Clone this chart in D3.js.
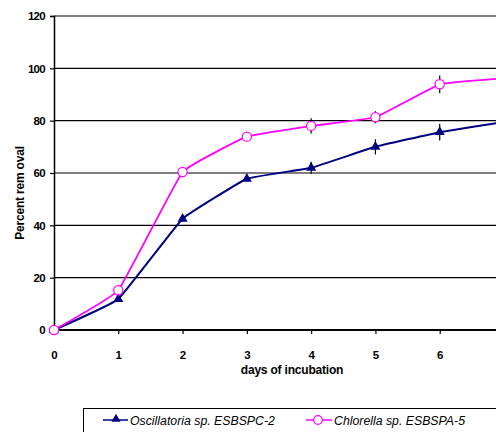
<!DOCTYPE html>
<html><head><meta charset="utf-8">
<script src="https://cdn.jsdelivr.net/npm/d3@7"></script>
<style>
html,body{margin:0;padding:0;background:#fff;}
svg{display:block;}
text{font-family:"Liberation Sans",Arial,sans-serif;}
</style></head>
<body>
<script>
const days = [0,1,2,3,4,5,6,7];
const oscillatoria = [0,11.8,42.5,57.8,62,70,75.6,79.5];
const oscErr = [0,0.8,1,1,2.3,2.9,3.2,3];
const chlorella = [0,15.2,60.4,73.9,78,81.3,93.9,96.2];
const chlErr = [0,0.8,1,1,2.9,2.3,3.4,3];
const yTicks = [0,20,40,60,80,100,120];
const xTicks = [0,1,2,3,4,5,6];
const seriesNames = ["Oscillatoria sp. ESBSPC-2","Chlorella sp. ESBSPA-5"];

const W=496,H=432;
const svg=d3.select("body").append("svg").attr("width",W).attr("height",H);
const x=d3.scaleLinear().domain([0,7]).range([54,504]);
const y=d3.scaleLinear().domain([0,120]).range([330,16]);

// gridlines
svg.append("g").selectAll("line").data(yTicks.filter(d=>d>0&&d<120)).join("line")
  .attr("x1",54).attr("x2",W).attr("y1",d=>y(d)).attr("y2",d=>y(d))
  .attr("stroke","#000").attr("stroke-width",1.2);
// top border
svg.append("line").attr("x1",54).attr("x2",W).attr("y1",y(120)).attr("y2",y(120))
  .attr("stroke","#808080").attr("stroke-width",2);

// y axis
const yAxis=svg.append("g").attr("transform","translate(54,0)")
  .call(d3.axisLeft(y).tickValues(yTicks).tickSize(4).tickPadding(5));
yAxis.select(".domain").attr("stroke","#000").attr("stroke-width",1.5);
yAxis.selectAll(".tick line").attr("stroke","#000").attr("stroke-width",1.2);
yAxis.selectAll("text").attr("font-size",11.5).attr("font-weight","bold").attr("letter-spacing","-0.7").attr("fill","#000");

// x axis
const xAxis=svg.append("g").attr("transform","translate(0,330)")
  .call(d3.axisBottom(x).tickValues(xTicks).tickSize(4).tickPadding(17).tickFormat(d3.format("d")));
xAxis.select(".domain").remove();
xAxis.append("line").attr("x1",54).attr("x2",W).attr("stroke","#000").attr("stroke-width",2.2);
xAxis.selectAll(".tick line").attr("stroke","#000").attr("stroke-width",1.2);
xAxis.selectAll("text").attr("font-size",11.5).attr("font-weight","bold").attr("fill","#000");

// titles
svg.append("text").attr("x",292).attr("y",374).attr("text-anchor","middle")
  .attr("font-size",12).attr("font-weight","bold").attr("letter-spacing","-0.2").text("days of incubation");
svg.append("text").attr("transform","translate(24,193) rotate(-90)").attr("text-anchor","middle")
  .attr("font-size",12).attr("font-weight","bold").attr("letter-spacing","-0.2").text("Percent rem oval");

const line=d3.line().x((d,i)=>x(days[i])).y(d=>y(d)).curve(d3.curveCardinal.tension(0.75));

function errBars(vals,errs){
  svg.append("g").selectAll("line").data(vals).join("line")
    .attr("x1",(d,i)=>x(days[i])).attr("x2",(d,i)=>x(days[i]))
    .attr("y1",(d,i)=>y(d+errs[i])).attr("y2",(d,i)=>y(d-errs[i]))
    .attr("stroke","#000").attr("stroke-width",1.2);
}
errBars(oscillatoria,oscErr);
errBars(chlorella,chlErr);

svg.append("path").attr("d",line(oscillatoria)).attr("fill","none").attr("stroke","#000080").attr("stroke-width",2);
svg.append("path").attr("d",line(chlorella)).attr("fill","none").attr("stroke","#ff00ff").attr("stroke-width",1.8);

const tri=d3.symbol().type(d3.symbolTriangle).size(44);
svg.append("g").selectAll("path").data(oscillatoria).join("path")
  .attr("transform",(d,i)=>`translate(${x(days[i])},${y(d)})`).attr("d",tri()).attr("fill","#000080");
svg.append("g").selectAll("circle").data(chlorella).join("circle")
  .attr("cx",(d,i)=>x(days[i])).attr("cy",d=>y(d)).attr("r",4.6)
  .attr("fill","#fff").attr("stroke","#ff00ff").attr("stroke-width",1.2);

// legend
svg.append("rect").attr("x",83.5).attr("y",408.5).attr("width",430).attr("height",40)
  .attr("fill","#fff").attr("stroke","#000").attr("stroke-width",1);
const lg=svg.append("g");
lg.append("line").attr("x1",103).attr("x2",128).attr("y1",420).attr("y2",420).attr("stroke","#000080").attr("stroke-width",1.5);
lg.append("path").attr("transform","translate(116,419)").attr("d",d3.symbol().type(d3.symbolTriangle).size(36)()).attr("fill","#000080");
lg.append("text").attr("x",130).attr("y",424.5).attr("font-size",12.3).attr("font-style","italic").text(seriesNames[0]);
lg.append("line").attr("x1",306).attr("x2",332).attr("y1",420).attr("y2",420).attr("stroke","#ff00ff").attr("stroke-width",1.5);
lg.append("circle").attr("cx",318).attr("cy",420).attr("r",4.3).attr("fill","#fff").attr("stroke","#ff00ff").attr("stroke-width",1.2);
lg.append("text").attr("x",334).attr("y",424.5).attr("font-size",12.3).attr("font-style","italic").text(seriesNames[1]);
</script>
</body></html>
